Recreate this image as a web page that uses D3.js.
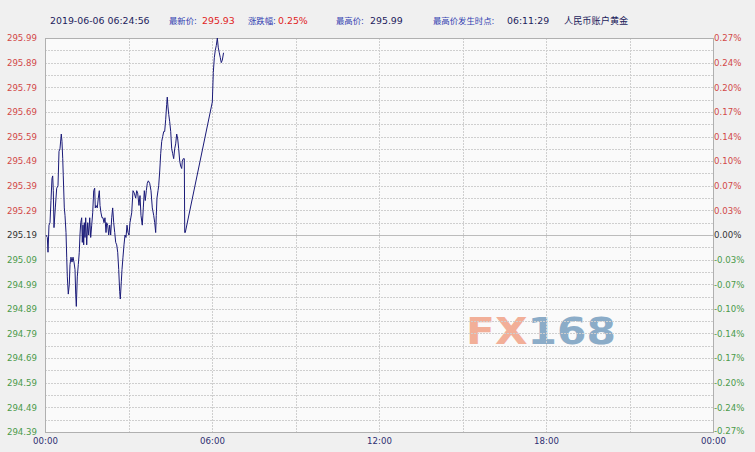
<!DOCTYPE html>
<html><head><meta charset="utf-8">
<script src="https://cdn.jsdelivr.net/npm/d3@7/dist/d3.min.js"></script>
<style>
html,body{margin:0;padding:0;background:#f0f0f0;}
svg{display:block;font-family:"DejaVu Sans",Verdana,sans-serif;}
</style></head>
<body><svg id="c" width="755" height="452"></svg>
<script>
// ---- data ----
const prevClose = 295.19;
const priceTicks = [295.99,295.89,295.79,295.69,295.59,295.49,295.39,295.29,295.19,295.09,294.99,294.89,294.79,294.69,294.59,294.49,294.39];
const priceTickLabels = ["295.99","295.89","295.79","295.69","295.59","295.49","295.39","295.29","295.19","295.09","294.99","294.89","294.79","294.69","294.59","294.49","294.39"];
const pctTickLabels = ["0.27%","0.24%","0.20%","0.17%","0.14%","0.10%","0.07%","0.03%","0.00%","-0.03%","-0.07%","-0.10%","-0.14%","-0.17%","-0.20%","-0.24%","-0.27%"];
const gridPrices = [295.94,295.84,295.74,295.64,295.54,295.44,295.34,295.24,295.14,295.04,294.94,294.84,294.74,294.64,294.54,294.44];
const timeTicks = [0,360,720,1080,1440];
const timeTickLabels = ["00:00","06:00","12:00","18:00","00:00"];
const timeGrid = [180,360,540,720,900,1080,1260];
// minutes since 00:00
const times = [2.2,5.0,6.5,8.6,10.8,12.9,15.1,16.6,17.9,19.4,
22.2,25.2,28.0,30.2,32.3,35.1,36.6,38.2,39.4,41.6,
43.1,45.3,46.8,48.1,50.2,52.4,53.9,56.0,58.2,60.4,
62.5,64.7,66.2,67.5,69.6,71.8,73.9,75.4,77.0,79.1,
80.4,81.9,83.4,84.7,86.2,87.7,89.9,92.0,94.2,96.4,
98.5,100.7,102.8,105.0,107.1,108.4,109.9,112.7,114.9,117.1,
118.6,120.7,122.9,125.0,127.2,129.3,131.5,133.0,135.2,137.3,
139.5,141.6,143.8,145.9,148.1,150.3,152.4,154.6,156.7,158.9,
161.0,162.3,164.5,166.0,168.1,170.3,172.5,174.6,176.8,178.9,
181.1,183.2,186.9,189.7,192.5,195.5,197.7,199.8,202.6,204.8,
206.9,209.7,211.9,214.1,216.2,218.4,220.5,222.7,225.7,228.5,
231.3,234.3,236.5,238.6,239.9,241.4,243.6,245.1,247.3,249.4,
251.6,253.7,255.9,258.0,260.2,262.3,263.6,265.1,266.7,268.8,
271.0,273.1,275.3,277.4,279.6,281.7,283.9,286.1,288.2,290.4,
292.5,294.7,296.0,298.1,300.3,301.2,302.4,360.7,362.8,365.0,
367.1,369.3,371.5,373.6,375.7,377.9,380.0,382.2,384.9];
const prices = [295.19,295.18,295.12,295.23,295.24,295.33,295.42,295.43,295.37,295.22,
295.30,295.38,295.39,295.53,295.54,295.60,295.57,295.50,295.43,295.30,
295.27,295.20,295.10,295.02,294.95,294.99,295.07,295.10,295.08,295.10,
295.08,295.05,294.95,294.90,295.02,295.07,295.12,295.19,295.24,295.26,
295.16,295.23,295.15,295.24,295.18,295.26,295.15,295.24,295.19,295.26,
295.18,295.23,295.28,295.37,295.38,295.30,295.31,295.30,295.34,295.37,
295.31,295.28,295.26,295.26,295.24,295.26,295.20,295.24,295.23,295.19,
295.23,295.19,295.26,295.30,295.24,295.20,295.16,295.15,295.12,295.05,
294.96,294.93,295.00,295.05,295.10,295.15,295.19,295.18,295.23,295.20,
295.19,295.24,295.28,295.37,295.36,295.34,295.37,295.36,295.31,295.35,
295.27,295.23,295.30,295.37,295.33,295.37,295.40,295.41,295.40,295.37,
295.30,295.27,295.24,295.20,295.27,295.34,295.37,295.39,295.45,295.52,
295.57,295.59,295.61,295.61,295.66,295.72,295.75,295.71,295.68,295.65,
295.61,295.54,295.52,295.50,295.54,295.56,295.60,295.58,295.54,295.49,
295.47,295.46,295.49,295.50,295.50,295.20,295.20,295.73,295.85,295.91,
295.94,295.96,295.99,295.95,295.93,295.91,295.89,295.90,295.93];
const header = [
  {t:"2019-06-06 06:24:56", c:"#1c1c5c", x:50, s:9.4},
  {t:"最新价:", c:"#3040b0", x:169, s:8.4},
  {t:"295.93", c:"#e02424", x:202, s:9.4},
  {t:"涨跌幅:", c:"#3040b0", x:248, s:8.4},
  {t:"0.25%", c:"#e02424", x:278, s:9.4},
  {t:"最高价:", c:"#3040b0", x:336, s:8.4},
  {t:"295.99", c:"#1c1c5c", x:370, s:9.4},
  {t:"最高价发生时点:", c:"#3040b0", x:433, s:8.4},
  {t:"06:11:29", c:"#1c1c5c", x:507, s:9.4},
  {t:"人民币账户黄金", c:"#1c1c5c", x:564, s:9.2}
];

// ---- chart ----
const svg = d3.select("#c");
const L=45, R=713, T=38, B=432;
const x = d3.scaleLinear().domain([0,1440]).range([L,R]);
const y = d3.scaleLinear().domain([294.39,295.99]).range([B,T]);

svg.append("rect").attr("x",L).attr("y",T).attr("width",R-L).attr("height",B-T).attr("fill","#fafafa");

// watermark
const wm = svg.append("text").attr("x",466).attr("y",344)
  .attr("font-family","'DejaVu Sans',sans-serif").attr("font-weight","bold")
  .attr("font-size",37).attr("textLength",150).attr("lengthAdjust","spacingAndGlyphs")
  .attr("opacity",0.92);
wm.append("tspan").attr("fill","#f2a990").text("FX");
wm.append("tspan").attr("fill","#82a6c4").text("168");

// horizontal grid
const allGrid = priceTicks.concat(gridPrices);
svg.append("g").selectAll("line").data(allGrid).join("line")
  .attr("x1",L).attr("x2",R)
  .attr("y1",d=>Math.round(y(d))+0.5).attr("y2",d=>Math.round(y(d))+0.5)
  .attr("stroke",d=>d===prevClose?"#bcbcbc":"#cfcfcf")
  .attr("stroke-dasharray",d=>d===prevClose?null:"2,1");
// vertical grid
svg.append("g").selectAll("line").data(timeGrid).join("line")
  .attr("y1",T).attr("y2",B)
  .attr("x1",d=>Math.round(x(d))+0.5).attr("x2",d=>Math.round(x(d))+0.5)
  .attr("stroke","#cfcfcf").attr("stroke-dasharray","2,1");

// frame
svg.append("rect").attr("x",L+0.5).attr("y",T+0.5).attr("width",R-L).attr("height",B-T)
  .attr("fill","none").attr("stroke","#b0b0b0");

function tickColor(i){ return priceTicks[i]>prevClose?"#d24848":(priceTicks[i]<prevClose?"#4a9a4a":"#333333"); }

// left axis
const la = svg.append("g").attr("transform",`translate(${L-8},0)`)
  .call(d3.axisLeft(y).tickValues(priceTicks).tickSize(0).tickPadding(0)
    .tickFormat((d,i)=>priceTickLabels[i]));
la.select(".domain").remove();
la.selectAll("text").attr("font-size","8.6px").attr("font-family","'DejaVu Sans',sans-serif")
  .attr("fill",(d,i)=>tickColor(i));

// right axis
const ra = svg.append("g").attr("transform",`translate(${R+1},0)`)
  .call(d3.axisRight(y).tickValues(priceTicks).tickSize(0).tickPadding(0)
    .tickFormat((d,i)=>pctTickLabels[i]));
ra.select(".domain").remove();
ra.selectAll("text").attr("font-size","8.6px").attr("font-family","'DejaVu Sans',sans-serif")
  .attr("fill",(d,i)=>tickColor(i));
ra.selectAll(".tick").filter((d,i)=>i===priceTicks.length-1).select("text").attr("dy","0.12em");

// bottom axis
const ba = svg.append("g").attr("transform",`translate(0,${B+6})`)
  .call(d3.axisBottom(x).tickValues(timeTicks).tickSize(0).tickPadding(0)
    .tickFormat((d,i)=>timeTickLabels[i]));
ba.select(".domain").remove();
ba.selectAll("text").attr("font-size","8.6px").attr("font-family","'DejaVu Sans',sans-serif")
  .attr("fill","#2e2e70");

// price line
const pts = times.map((t,i)=>[t,prices[i]]);
svg.append("path").datum(pts)
  .attr("fill","none").attr("stroke","#1a1a78").attr("stroke-width",1)
  .attr("d",d3.line().x(d=>x(d[0])).y(d=>y(d[1])));

// header
svg.append("g").selectAll("text").data(header).join("text")
  .attr("x",d=>d.x).attr("y",24).attr("font-size",d=>d.s+"px")
  .attr("font-family","'DejaVu Sans','Noto Sans CJK SC',sans-serif")
  .attr("fill",d=>d.c).text(d=>d.t);
</script></body></html>
